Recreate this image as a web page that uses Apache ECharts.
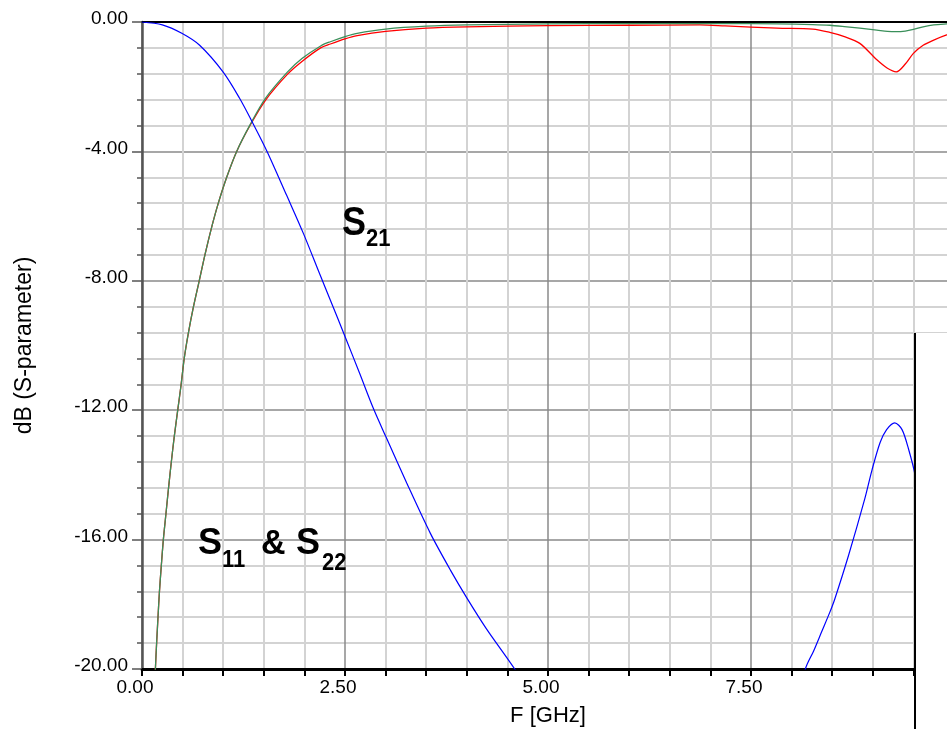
<!DOCTYPE html>
<html>
<head>
<meta charset="utf-8">
<script src="https://cdn.jsdelivr.net/npm/echarts@6/dist/echarts.min.js"></script>
<style>
  html, body { margin: 0; padding: 0; background: #fff; }
  #chart { width: 947px; height: 729px; }
</style>
</head>
<body>
<div id="chart"></div>
<script>
// S21 sweep: frequency (GHz) and magnitude (dB)
const fS21 = [0, 0.25, 0.49, 0.71, 1.0, 1.2, 1.37, 1.54, 1.78, 1.99, 2.19, 2.32, 2.5, 2.68, 2.85, 3.0, 3.26, 3.55, 3.8, 4.0, 4.24, 4.59, 5.0, 5.5, 6.0, 6.5, 7.0, 7.5, 8.0, 8.17, 8.27, 8.37, 8.47, 8.53, 8.7, 8.9, 8.99, 9.09, 9.17, 9.27, 9.36, 9.44, 9.52, 9.7];
const s21dB = [0, -0.09, -0.35, -0.72, -1.55, -2.35, -3.15, -4.0, -5.35, -6.55, -7.8, -8.6, -9.72, -10.86, -11.95, -12.8, -14.25, -15.8, -16.95, -17.8, -18.75, -20.0, -21.6, -24.0, -27.0, -31.0, -33.0, -29.0, -22.0, -20.0, -19.45, -18.85, -18.25, -17.85, -16.5, -14.75, -13.85, -13.0, -12.6, -12.39, -12.6, -13.2, -14.0, -17.0];

// S11 / S22 sweep: frequency (GHz) and magnitudes (dB)
const fS11 = [0.15, 0.165, 0.18, 0.197, 0.215, 0.238, 0.263, 0.295, 0.327, 0.361, 0.398, 0.44, 0.482, 0.52, 0.572, 0.634, 0.705, 0.775, 0.852, 0.94, 1.043, 1.166, 1.33, 1.52, 1.79, 1.97, 2.2, 2.32, 2.5, 2.65, 3.0, 3.5, 4.0, 5.0, 6.0, 6.87, 7.18, 7.82, 8.26, 8.47, 8.65, 8.84, 9.05, 9.18, 9.29, 9.4, 9.5, 9.62, 9.75, 9.91, 10.0];
const s11dB = [-21.0, -20.0, -19.2, -18.4, -17.6, -16.8, -16.0, -15.2, -14.4, -13.6, -12.8, -12.0, -11.2, -10.4, -9.6, -8.8, -8.0, -7.2, -6.4, -5.6, -4.8, -4.0, -3.2, -2.42, -1.62, -1.22, -0.8, -0.68, -0.52, -0.42, -0.29, -0.19, -0.15, -0.11, -0.1, -0.09, -0.12, -0.19, -0.22, -0.32, -0.45, -0.66, -1.17, -1.43, -1.54, -1.3, -0.97, -0.72, -0.56, -0.40, -0.35];
const s22dB = [-21.0, -20.0, -19.2, -18.4, -17.6, -16.8, -16.0, -15.2, -14.4, -13.6, -12.8, -12.0, -11.2, -10.4, -9.6, -8.8, -8.0, -7.2, -6.4, -5.6, -4.8, -4.0, -3.18, -2.36, -1.55, -1.13, -0.74, -0.61, -0.45, -0.35, -0.22, -0.13, -0.09, -0.06, -0.05, -0.05, -0.05, -0.06, -0.08, -0.1, -0.14, -0.19, -0.25, -0.29, -0.3, -0.28, -0.23, -0.15, -0.09, -0.06, -0.05];

const FONT = '"Liberation Sans", Arial, sans-serif';
const pairs = (xs, ys) => xs.map((x, i) => [x, ys[i]]);

const chart = echarts.init(document.getElementById('chart'), null, { renderer: 'canvas' });

const majorGrid = { color: '#8a8a8a', width: 1.5 };
const minorGrid = { color: '#d3d3d3', width: 2 };

const traceDefaults = { type: 'line', showSymbol: false, clip: true, smooth: 0.3 };

chart.setOption({
  animation: false,
  backgroundColor: '#fff',
  grid: { left: 142, top: 22, width: 812, height: 647, containLabel: false, outerBoundsMode: 'none' },
  xAxis: [{
    type: 'value', min: 0, max: 10, interval: 2.5,
    position: 'bottom',
    name: 'F [GHz]', nameLocation: 'middle', nameGap: 36,
    nameTextStyle: { fontFamily: FONT, fontSize: 22, color: '#000' },
    axisLine: { show: true, onZero: false, lineStyle: { color: '#000', width: 3 } },
    axisTick: { show: true, length: 7, lineStyle: { color: '#000', width: 2 } },
    minorTick: { show: true, splitNumber: 5, length: 7, lineStyle: { color: '#000', width: 2 } },
    splitLine: { show: true, lineStyle: majorGrid },
    minorSplitLine: { show: true, lineStyle: minorGrid },
    axisLabel: {
      formatter: v => v.toFixed(2), fontFamily: FONT, fontSize: 19, color: '#000',
      margin: 9, padding: [0, 14, 0, 0], showMaxLabel: false
    }
  }, {
    type: 'value', min: 0, max: 10, position: 'top',
    axisLine: { show: true, lineStyle: { color: '#000', width: 2 } },
    axisTick: { show: false }, axisLabel: { show: false }, splitLine: { show: false }
  }],
  yAxis: {
    type: 'value', min: -20, max: 0, interval: 4,
    name: 'dB (S-parameter)', nameLocation: 'middle', nameGap: 106, nameRotate: 90,
    nameTextStyle: { fontFamily: FONT, fontSize: 23, color: '#000' },
    axisLine: { show: true, lineStyle: { color: '#555', width: 2.5 } },
    axisTick: { show: true, length: 10, lineStyle: { color: '#555', width: 1.5 } },
    minorTick: { show: true, splitNumber: 5, length: 5, lineStyle: { color: '#555', width: 1.5 } },
    splitLine: { show: true, lineStyle: majorGrid },
    minorSplitLine: { show: true, lineStyle: minorGrid },
    axisLabel: {
      // value on the first line, a short blank line under it lifts the label slightly
      formatter: v => '{v|' + v.toFixed(2) + '}\n{gap| }',
      margin: 14,
      rich: {
        v: { fontFamily: FONT, fontSize: 19, color: '#000', lineHeight: 20, align: 'right' },
        gap: { fontSize: 6, lineHeight: 6 }
      }
    }
  },
  series: [
    Object.assign({ name: 'S11', data: pairs(fS11, s11dB), lineStyle: { color: '#ff0000', width: 1.3 } }, traceDefaults),
    Object.assign({ name: 'S22', data: pairs(fS11, s22dB), lineStyle: { color: '#3a8f5a', width: 1.3 } }, traceDefaults),
    Object.assign({ name: 'S21', data: pairs(fS21, s21dB), lineStyle: { color: '#0000ff', width: 1.2 } }, traceDefaults)
  ],
  graphic: [
    // blanked lower-right corner
    { type: 'rect', z: 100, shape: { x: 916, y: 333, width: 31, height: 396 }, style: { fill: '#fff' } },
    { type: 'line', z: 101, shape: { x1: 915, y1: 333, x2: 915, y2: 729 }, style: { stroke: '#000', lineWidth: 2 } },
    // curve annotations
    { type: 'text', z: 50, x: 342, y: 224, scaleY: 1.15,
      style: { text: 'S', fontFamily: FONT, fontWeight: 'bold', fontSize: 36, fill: '#000', verticalAlign: 'middle', align: 'left' } },
    { type: 'text', z: 50, x: 366, y: 239, scaleY: 1.1,
      style: { text: '21', fontFamily: FONT, fontWeight: 'bold', fontSize: 22, fill: '#000', verticalAlign: 'middle', align: 'left' } },
    { type: 'text', z: 50, x: 198, y: 544, scaleY: 1.05,
      style: { text: 'S', fontFamily: FONT, fontWeight: 'bold', fontSize: 36, fill: '#000', verticalAlign: 'middle', align: 'left' } },
    { type: 'text', z: 50, x: 222, y: 560, scaleY: 1.1,
      style: { text: '11', fontFamily: FONT, fontWeight: 'bold', fontSize: 22, fill: '#000', verticalAlign: 'middle', align: 'left' } },
    { type: 'text', z: 50, x: 261, y: 544, scaleY: 1.05,
      style: { text: '&', fontFamily: FONT, fontWeight: 'bold', fontSize: 34, fill: '#000', verticalAlign: 'middle', align: 'left' } },
    { type: 'text', z: 50, x: 296, y: 544, scaleY: 1.05,
      style: { text: 'S', fontFamily: FONT, fontWeight: 'bold', fontSize: 36, fill: '#000', verticalAlign: 'middle', align: 'left' } },
    { type: 'text', z: 50, x: 322, y: 563, scaleY: 1.1,
      style: { text: '22', fontFamily: FONT, fontWeight: 'bold', fontSize: 22, fill: '#000', verticalAlign: 'middle', align: 'left' } }
  ]
});
</script>
</body>
</html>
